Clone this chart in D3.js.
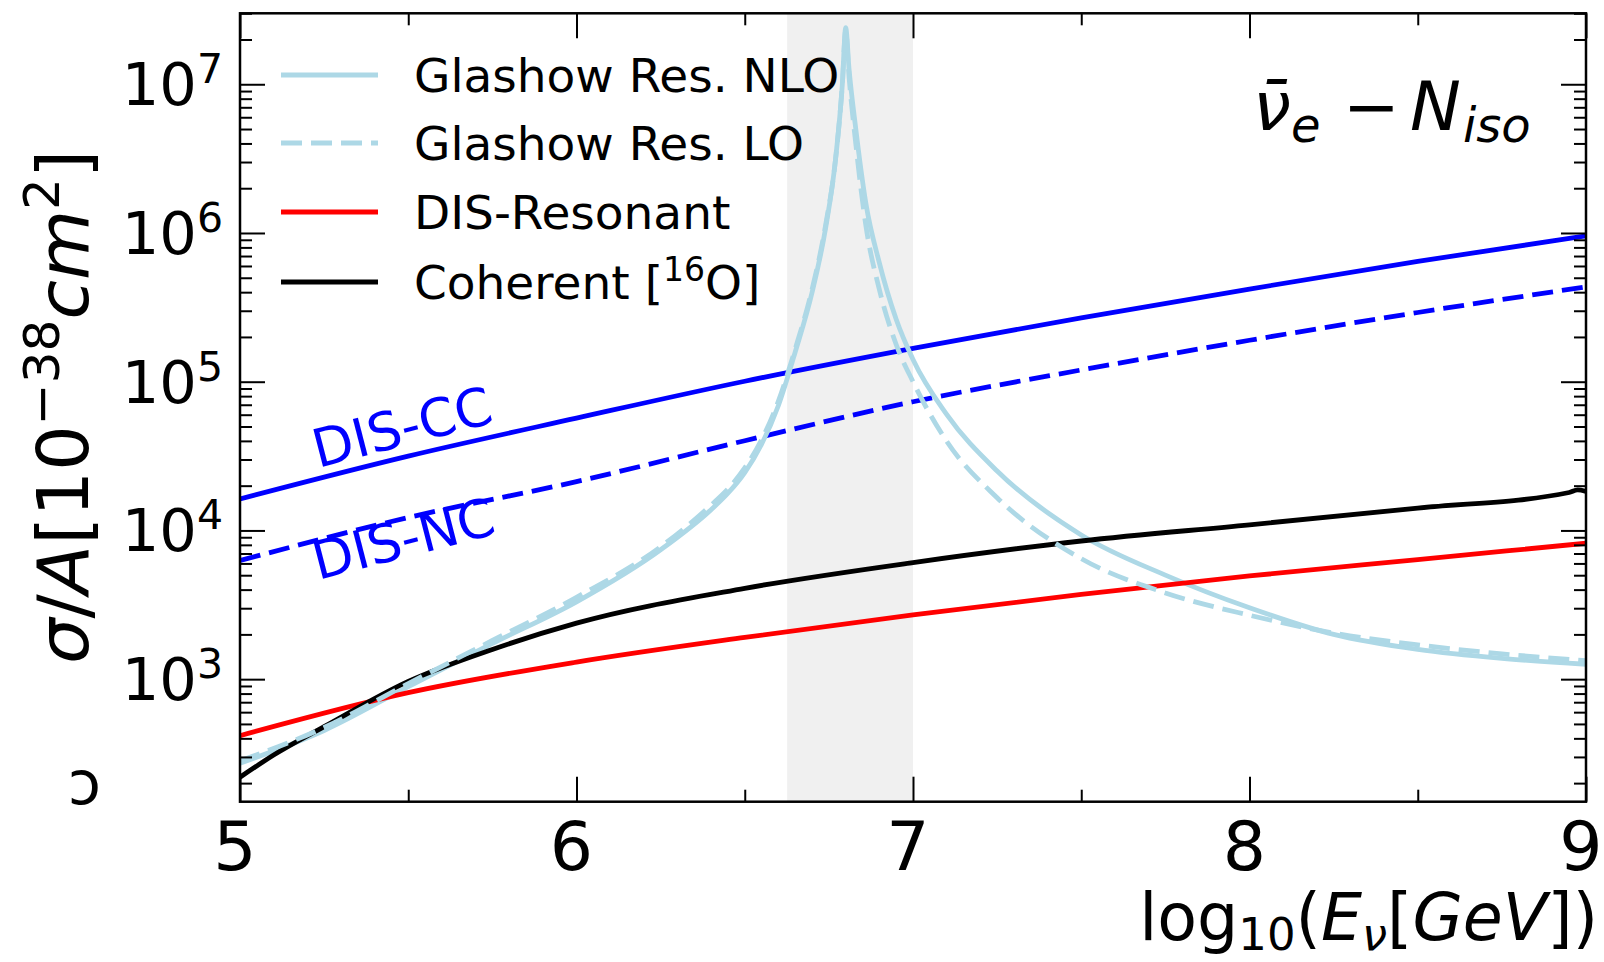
<!DOCTYPE html>
<html><head><meta charset="utf-8">
<script src="https://cdn.jsdelivr.net/npm/d3@7"></script>
<style>
body{margin:0;background:#fff}
svg{display:block}
text{font-family:"DejaVu Sans",sans-serif;fill:#000}
.it{font-style:italic}
</style>
</head><body>
<svg id="c" width="1604" height="962"></svg>
<script>
// ---------------- data ----------------
const logE_glashow = [5.0,5.25,5.5,5.75,6.0,6.25,6.4,6.45,6.5,6.55,6.6,6.65,6.7,6.74,6.77,6.79,6.80,6.81,6.83,6.86,6.9,6.95,7.0,7.1,7.25,7.5,7.75,8.0,8.25,8.5,8.75,9.0];
const glashowNLO = [272,452,891,1738,3311,7413,13800,17800,24500,38000,69200,158500,398000,1.07e6,3.16e6,1.0e7,2.4e7,1.26e7,5.0e6,1.58e6,6.3e5,2.63e5,1.41e5,6.03e4,2.51e4,9330,5010,3020,2000,1585,1380,1260];
const glashowLO  = [282,473,933,1820,3550,7760,14800,19000,26300,40700,74100,166000,417000,1.12e6,3.16e6,1.0e7,2.29e7,1.12e7,3.98e6,1.12e6,4.17e5,1.78e5,1.0e5,3.98e4,1.66e4,6460,3800,2690,2040,1700,1480,1330];
const logE_dis = [5.0,5.5,6.0,6.5,7.0,7.5,8.0,8.5,9.0];
const disCC  = [16300,31600,56900,100700,167500,269000,420000,644000,957000];
const disNC  = [6270,12220,21300,40100,73300,120000,190000,292000,434000];
const disRes = [417,811,1303,1910,2704,3715,4943,6368,8204];
const logE_coh = [5.0,5.1,5.25,5.5,5.75,6.0,6.5,7.0,7.5,8.0,8.5,8.95,8.975,9.0];
const coherent = [219,309,479,966,1585,2382,4083,6081,8492,10910,14130,17990,18710,18280];
const xTicks = [5,6,7,8,9];
const xMinorTicks = [5.5,6.5,7.5,8.5];
const yTickExponents = [3,4,5,6,7];
const bandRange = [6.626,7.0];
const legendLabels = ["Glashow Res. NLO","Glashow Res. LO","DIS-Resonant","Coherent ["];

// ---------------- layout ----------------
const L=240,R=1586,T=13.3,B=801.7;
const LW=4.8, DASH="21,9";
const svg=d3.select("#c");
const x=d3.scaleLinear().domain([5,9]).range([L,R]);
const y=d3.scaleLog().domain([150,3e7]).range([B,T]);

svg.append("defs").append("clipPath").attr("id","clip")
  .append("rect").attr("x",L).attr("y",T).attr("width",R-L).attr("height",B-T);

svg.append("rect").attr("x",x(bandRange[0])).attr("y",T)
  .attr("width",x(bandRange[1])-x(bandRange[0])).attr("height",B-T).attr("fill","#f0f0f0");

const series=[
  {xs:logE_dis,ys:disCC,color:"#0000ff",dash:null},
  {xs:logE_dis,ys:disNC,color:"#0000ff",dash:DASH},
  {xs:logE_glashow,ys:glashowNLO,color:"#add8e6",dash:null},
  {xs:logE_dis,ys:disRes,color:"#ff0000",dash:null},
  {xs:logE_coh,ys:coherent,color:"#000000",dash:null},
  {xs:logE_glashow,ys:glashowLO,color:"#add8e6",dash:DASH}
];
const gl=svg.append("g").attr("clip-path","url(#clip)");
const line=d3.line().x(d=>x(d[0])).y(d=>y(d[1])).curve(d3.curveMonotoneX);
series.forEach(s=>{
  gl.append("path").datum(s.xs.map((v,i)=>[v,s.ys[i]]))
    .attr("d",line).attr("fill","none").attr("stroke",s.color)
    .attr("stroke-width",LW).attr("stroke-dasharray",s.dash).attr("stroke-linejoin","round");
});

// ---------------- axes ----------------
const majorY=yTickExponents.map(e=>Math.pow(10,e));
const minorY=y.ticks().filter(v=>Math.abs(Math.log10(v)-Math.round(Math.log10(v)))>1e-6);
function ax(gen,tr,vals,size){
  const g=svg.append("g").attr("transform",tr)
    .call(gen.tickValues(vals).tickSize(-size).tickSizeOuter(0).tickFormat(""));
  g.select(".domain").remove();
  g.selectAll(".tick line").attr("stroke","#000").attr("stroke-width",2);
}
ax(d3.axisLeft(y),`translate(${L},0)`,majorY,25);
ax(d3.axisLeft(y),`translate(${L},0)`,minorY,12);
ax(d3.axisRight(y),`translate(${R},0)`,majorY,25);
ax(d3.axisRight(y),`translate(${R},0)`,minorY,12);
ax(d3.axisBottom(x),`translate(0,${B})`,xTicks,25);
ax(d3.axisBottom(x),`translate(0,${B})`,xMinorTicks,12);
ax(d3.axisTop(x),`translate(0,${T})`,xTicks,25);
ax(d3.axisTop(x),`translate(0,${T})`,xMinorTicks,12);

svg.append("rect").attr("x",L).attr("y",T).attr("width",R-L).attr("height",B-T)
  .attr("fill","none").attr("stroke","#000").attr("stroke-width",2.5);

// y tick labels
yTickExponents.forEach(e=>{
  const t=svg.append("text").attr("x",L-17).attr("y",y(Math.pow(10,e))+21)
    .attr("text-anchor","end").attr("font-size",59);
  t.append("tspan").text("10");
  t.append("tspan").attr("font-size",41).attr("dy",-22).text(String(e));
});
// x tick labels
xTicks.forEach(v=>{
  svg.append("text").attr("x",x(v)-5).attr("y",870).attr("text-anchor","middle")
    .attr("font-size",68).text(String(v));
});

// x label
{
  const t=svg.append("text").attr("x",1598).attr("y",940).attr("text-anchor","end").attr("font-size",65);
  t.append("tspan").text("log");
  t.append("tspan").attr("font-size",45).attr("dy",10).text("10");
  t.append("tspan").attr("dy",-10).text("(");
  t.append("tspan").attr("class","it").text("E");
  t.append("tspan").attr("class","it").attr("font-size",45).attr("dy",10).text("ν");
  t.append("tspan").attr("dy",-10).text("[");
  t.append("tspan").attr("class","it").text("GeV");
  t.append("tspan").text("])");
}
// y label
{
  const t=svg.append("text").attr("transform","translate(88,407) rotate(-90)")
    .attr("text-anchor","middle").attr("font-size",72);
  t.append("tspan").attr("class","it").text("σ");
  t.append("tspan").text("/");
  t.append("tspan").attr("class","it").text("A");
  t.append("tspan").text("[10");
  t.append("tspan").attr("font-size",50).attr("dy",-29).text("−38");
  t.append("tspan").attr("class","it").attr("dy",29).text("cm");
  t.append("tspan").attr("font-size",50).attr("dy",-29).text("2");
  t.append("tspan").attr("dy",29).text("]");
}
svg.append("text").attr("x",68).attr("y",804).attr("font-size",60).text("ɔ");

// title
{
  const t=svg.append("text").attr("y",130).attr("font-size",68);
  t.append("tspan").attr("x",1253).attr("class","it").text("ν\u0304");
  t.append("tspan").attr("x",1291).attr("class","it").attr("font-size",48).attr("dy",12).text("e");
  t.append("tspan").attr("x",1343).attr("dy",-12).text("−");
  t.append("tspan").attr("x",1410).attr("class","it").text("N");
  t.append("tspan").attr("x",1463).attr("class","it").attr("font-size",48).attr("dy",12).text("iso");
}

// legend
const legRows=[
  {color:"#add8e6",dash:null},{color:"#add8e6",dash:DASH},
  {color:"#ff0000",dash:null},{color:"#000000",dash:null}];
const legY=[75,143,212,282];
legRows.forEach((r,i)=>{
  svg.append("line").attr("x1",281).attr("x2",378).attr("y1",legY[i]).attr("y2",legY[i])
    .attr("stroke",r.color).attr("stroke-width",LW).attr("stroke-dasharray",r.dash);
  const t=svg.append("text").attr("x",414).attr("y",legY[i]+17).attr("font-size",47);
  t.append("tspan").text(legendLabels[i]);
  if(i===3){
    t.append("tspan").attr("font-size",33).attr("dy",-18).text("16");
    t.append("tspan").attr("dy",18).text("O]");
  }
});

// in-plot labels
svg.append("text").attr("transform","translate(318,468) rotate(-14.5)")
  .attr("font-size",53).style("fill","#0000ff").text("DIS-CC");
svg.append("text").attr("transform","translate(318,580) rotate(-14.5)")
  .attr("font-size",53).style("fill","#0000ff").text("DIS-NC");
</script>
</body></html>
